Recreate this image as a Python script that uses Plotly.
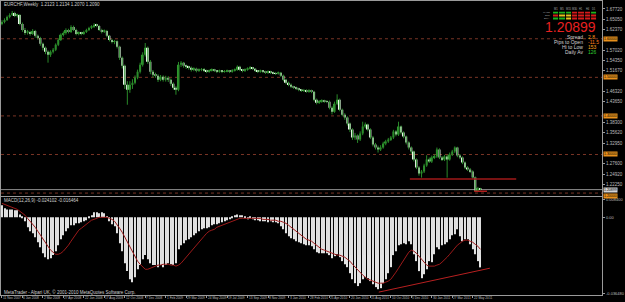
import pandas as pd
import plotly.graph_objects as go

# ---------------- data ----------------
symbol_title = "EURCHF,Weekly  1.2123 1.2134 1.2070 1.2090"
macd_title = "MACD(12,26,9) -0.024102 -0.016464"
footer_text = "MetaTrader - Alpari UK, \u00a9 2001-2010 MetaQuotes Software Corp."

weeks = pd.date_range("2007-11-11", periods=188, freq="7D")

opens = [
    1.6385, 1.6437, 1.6488, 1.6566, 1.6617, 1.6669, 1.6592, 1.6617, 1.6385, 1.6230,
    1.6152, 1.6178, 1.6126, 1.6204, 1.6075, 1.6023, 1.5868, 1.5765, 1.5661, 1.5584,
    1.5661, 1.5713, 1.5842, 1.5971, 1.6101, 1.6152, 1.6230, 1.6178, 1.6307, 1.6230,
    1.6126, 1.6152, 1.6126, 1.6178, 1.6230, 1.6282, 1.6307, 1.6359, 1.6333, 1.6230,
    1.6178, 1.6204, 1.6075, 1.5971, 1.5920, 1.5935, 1.5791, 1.5506, 1.5300, 1.4809,
    1.4679, 1.4809, 1.4860, 1.4990, 1.5145, 1.5325, 1.5584, 1.5765, 1.5403, 1.5145,
    1.5067, 1.5041, 1.4938, 1.5015, 1.4938, 1.4990, 1.4938, 1.4834, 1.4731, 1.4679,
    1.5325, 1.5377, 1.5300, 1.5274, 1.5248, 1.5196, 1.5222, 1.5170, 1.5196, 1.5210,
    1.5170, 1.5145, 1.5170, 1.5196, 1.5170, 1.5145, 1.5170, 1.5145, 1.5158, 1.5170,
    1.5145, 1.5170, 1.5196, 1.5274, 1.5196, 1.5170, 1.5196, 1.5222, 1.5248, 1.5222,
    1.5170, 1.5145, 1.5170, 1.5145, 1.5119, 1.5145, 1.5119, 1.5110, 1.5093, 1.5119,
    1.5041, 1.4938, 1.4860, 1.4809, 1.4757, 1.4731, 1.4705, 1.4679, 1.4654, 1.4660,
    1.4628, 1.4654, 1.4628, 1.4421, 1.4343, 1.4369, 1.4395, 1.4380, 1.4369, 1.4214,
    1.4111, 1.4318, 1.4421, 1.4163, 1.4033, 1.3956, 1.3801, 1.3646, 1.3439, 1.3491,
    1.3388, 1.3542, 1.3723, 1.3775, 1.3646, 1.3439, 1.3258, 1.3181, 1.3129, 1.3181,
    1.3284, 1.3336, 1.3388, 1.3439, 1.3594, 1.3517, 1.3723, 1.3568, 1.3465, 1.3310,
    1.3181, 1.3077, 1.2871, 1.2664, 1.2509, 1.2561, 1.2716, 1.2871, 1.2819, 1.2922,
    1.2948, 1.3129, 1.2922, 1.2871, 1.2948, 1.2871, 1.3000, 1.3077, 1.3181, 1.2974,
    1.2922, 1.2793, 1.2664, 1.2612, 1.2561, 1.2405, 1.2057, 1.2123,
]
highs = [
    1.6480, 1.6530, 1.6600, 1.6660, 1.6720, 1.6700, 1.6650, 1.6640, 1.6420, 1.6280,
    1.6230, 1.6210, 1.6250, 1.6230, 1.6110, 1.6050, 1.5900, 1.5800, 1.5700, 1.5700,
    1.5760, 1.5880, 1.6010, 1.6140, 1.6190, 1.6270, 1.6260, 1.6350, 1.6340, 1.6260,
    1.6190, 1.6180, 1.6210, 1.6260, 1.6310, 1.6350, 1.6400, 1.6390, 1.6360, 1.6260,
    1.6240, 1.6230, 1.6100, 1.6000, 1.5970, 1.5960, 1.5820, 1.5540, 1.5330, 1.4900,
    1.4900, 1.4950, 1.5050, 1.5200, 1.5380, 1.5650, 1.5890, 1.5800, 1.5450, 1.5190,
    1.5120, 1.5080, 1.5060, 1.5050, 1.5040, 1.5030, 1.4970, 1.4870, 1.4770, 1.5400,
    1.5420, 1.5400, 1.5330, 1.5300, 1.5280, 1.5260, 1.5250, 1.5230, 1.5240, 1.5240,
    1.5200, 1.5200, 1.5230, 1.5220, 1.5190, 1.5200, 1.5190, 1.5190, 1.5200, 1.5190,
    1.5210, 1.5230, 1.5310, 1.5300, 1.5220, 1.5230, 1.5260, 1.5290, 1.5270, 1.5240,
    1.5190, 1.5200, 1.5190, 1.5170, 1.5180, 1.5170, 1.5150, 1.5140, 1.5150, 1.5140,
    1.5070, 1.4960, 1.4890, 1.4840, 1.4780, 1.4760, 1.4730, 1.4700, 1.4700, 1.4690,
    1.4690, 1.4680, 1.4650, 1.4450, 1.4410, 1.4430, 1.4420, 1.4410, 1.4400, 1.4250,
    1.4370, 1.4560, 1.4450, 1.4190, 1.4070, 1.3990, 1.3830, 1.3680, 1.3560, 1.3520,
    1.3600, 1.3850, 1.3830, 1.3800, 1.3680, 1.3480, 1.3300, 1.3230, 1.3240, 1.3330,
    1.3380, 1.3430, 1.3480, 1.3640, 1.3630, 1.3850, 1.3750, 1.3600, 1.3490, 1.3340,
    1.3210, 1.3100, 1.2900, 1.2700, 1.2600, 1.2760, 1.2980, 1.2920, 1.2970, 1.3000,
    1.3180, 1.3160, 1.2960, 1.2990, 1.2990, 1.3050, 1.3120, 1.3210, 1.3200, 1.3010,
    1.2950, 1.2820, 1.2700, 1.2650, 1.2590, 1.2430, 1.2160, 1.2134,
]
lows = [
    1.6350, 1.6400, 1.6460, 1.6530, 1.6590, 1.6560, 1.6550, 1.6350, 1.6180, 1.6100,
    1.6110, 1.6080, 1.6100, 1.6030, 1.5980, 1.5820, 1.5700, 1.5600, 1.5380, 1.5530,
    1.5620, 1.5680, 1.5810, 1.5940, 1.6060, 1.6110, 1.6140, 1.6150, 1.6200, 1.6090,
    1.6090, 1.6090, 1.6100, 1.6150, 1.6200, 1.6250, 1.6280, 1.6300, 1.6200, 1.6140,
    1.6150, 1.6040, 1.5930, 1.5880, 1.5860, 1.5750, 1.5450, 1.5230, 1.4700, 1.4290,
    1.4600, 1.4700, 1.4820, 1.4950, 1.5100, 1.5280, 1.5540, 1.5350, 1.5080, 1.5000,
    1.4990, 1.4880, 1.4900, 1.4890, 1.4890, 1.4880, 1.4780, 1.4680, 1.4550, 1.4640,
    1.5270, 1.5250, 1.5220, 1.5200, 1.5150, 1.5160, 1.5130, 1.5140, 1.5160, 1.5140,
    1.5110, 1.5120, 1.5150, 1.5140, 1.5110, 1.5120, 1.5110, 1.5120, 1.5130, 1.5110,
    1.5120, 1.5150, 1.5170, 1.5160, 1.5130, 1.5140, 1.5170, 1.5200, 1.5190, 1.5140,
    1.5110, 1.5120, 1.5110, 1.5090, 1.5090, 1.5090, 1.5080, 1.5060, 1.5070, 1.5010,
    1.4900, 1.4820, 1.4770, 1.4720, 1.4700, 1.4670, 1.4640, 1.4620, 1.4620, 1.4600,
    1.4600, 1.4590, 1.4380, 1.4300, 1.4310, 1.4340, 1.4340, 1.4330, 1.4170, 1.4040,
    1.4080, 1.4280, 1.4120, 1.3990, 1.3900, 1.3750, 1.3580, 1.3380, 1.3380, 1.3300,
    1.3350, 1.3500, 1.3680, 1.3600, 1.3400, 1.3210, 1.3130, 1.3050, 1.3090, 1.3150,
    1.3240, 1.3300, 1.3350, 1.3400, 1.3470, 1.3480, 1.3520, 1.3420, 1.3260, 1.3130,
    1.3020, 1.2820, 1.2620, 1.2450, 1.2400, 1.2520, 1.2680, 1.2780, 1.2780, 1.2880,
    1.2910, 1.2880, 1.2830, 1.2830, 1.2400, 1.2840, 1.2960, 1.3040, 1.2930, 1.2880,
    1.2750, 1.2620, 1.2570, 1.2520, 1.2370, 1.2040, 1.2030, 1.2070,
]
closes = [
    1.6437, 1.6488, 1.6566, 1.6617, 1.6669, 1.6592, 1.6617, 1.6385, 1.6230, 1.6152,
    1.6178, 1.6126, 1.6204, 1.6075, 1.6023, 1.5868, 1.5765, 1.5661, 1.5584, 1.5661,
    1.5713, 1.5842, 1.5971, 1.6101, 1.6152, 1.6230, 1.6178, 1.6307, 1.6230, 1.6126,
    1.6152, 1.6126, 1.6178, 1.6230, 1.6282, 1.6307, 1.6359, 1.6333, 1.6230, 1.6178,
    1.6204, 1.6075, 1.5971, 1.5920, 1.5935, 1.5791, 1.5506, 1.5300, 1.4809, 1.4679,
    1.4809, 1.4860, 1.4990, 1.5145, 1.5325, 1.5584, 1.5765, 1.5403, 1.5145, 1.5067,
    1.5041, 1.4938, 1.5015, 1.4938, 1.4990, 1.4938, 1.4834, 1.4731, 1.4679, 1.5325,
    1.5377, 1.5300, 1.5274, 1.5248, 1.5196, 1.5222, 1.5170, 1.5196, 1.5210, 1.5170,
    1.5145, 1.5170, 1.5196, 1.5170, 1.5145, 1.5170, 1.5145, 1.5158, 1.5170, 1.5145,
    1.5170, 1.5196, 1.5274, 1.5196, 1.5170, 1.5196, 1.5222, 1.5248, 1.5222, 1.5170,
    1.5145, 1.5170, 1.5145, 1.5119, 1.5145, 1.5119, 1.5110, 1.5093, 1.5119, 1.5041,
    1.4938, 1.4860, 1.4809, 1.4757, 1.4731, 1.4705, 1.4679, 1.4654, 1.4660, 1.4628,
    1.4654, 1.4628, 1.4421, 1.4343, 1.4369, 1.4395, 1.4380, 1.4369, 1.4214, 1.4111,
    1.4318, 1.4421, 1.4163, 1.4033, 1.3956, 1.3801, 1.3646, 1.3439, 1.3491, 1.3388,
    1.3542, 1.3723, 1.3775, 1.3646, 1.3439, 1.3258, 1.3181, 1.3129, 1.3181, 1.3284,
    1.3336, 1.3388, 1.3439, 1.3594, 1.3517, 1.3723, 1.3568, 1.3465, 1.3310, 1.3181,
    1.3077, 1.2871, 1.2664, 1.2509, 1.2561, 1.2716, 1.2871, 1.2819, 1.2922, 1.2948,
    1.3129, 1.2922, 1.2871, 1.2948, 1.2871, 1.3000, 1.3077, 1.3181, 1.2974, 1.2922,
    1.2793, 1.2664, 1.2612, 1.2561, 1.2405, 1.2057, 1.2123, 1.2090,
]
macd_hist = [
    0.0058, 0.0043, 0.0038, 0.0038, 0.0038, 0.0034, 0.0034, 0.0014, -0.0005, -0.0019,
    -0.0048, -0.0067, -0.0077, -0.0096, -0.0120, -0.0144, -0.0173, -0.0192, -0.0202, -0.0197,
    -0.0182, -0.0163, -0.0134, -0.0106, -0.0086, -0.0067, -0.0053, -0.0038, -0.0038, -0.0029,
    -0.0029, -0.0024, -0.0019, -0.0014, -0.0005, 0.0010, 0.0024, 0.0024, 0.0019, 0.0024,
    0.0019, 0.0002, -0.0019, -0.0034, -0.0043, -0.0077, -0.0125, -0.0163, -0.0221, -0.0259,
    -0.0298, -0.0312, -0.0288, -0.0250, -0.0230, -0.0202, -0.0182, -0.0202, -0.0221, -0.0230,
    -0.0230, -0.0240, -0.0230, -0.0240, -0.0230, -0.0221, -0.0226, -0.0230, -0.0221, -0.0154,
    -0.0134, -0.0125, -0.0110, -0.0106, -0.0096, -0.0086, -0.0077, -0.0067, -0.0058, -0.0053,
    -0.0053, -0.0048, -0.0038, -0.0034, -0.0034, -0.0029, -0.0024, -0.0019, -0.0014, -0.0010,
    -0.0002, 0.0010, 0.0014, 0.0010, 0.0005, -0.0005, -0.0010, -0.0005, -0.0010, -0.0014,
    -0.0014, -0.0019, -0.0019, -0.0019, -0.0024, -0.0019, -0.0024, -0.0024, -0.0029, -0.0043,
    -0.0058, -0.0077, -0.0091, -0.0101, -0.0106, -0.0115, -0.0120, -0.0125, -0.0130, -0.0134,
    -0.0134, -0.0139, -0.0154, -0.0168, -0.0173, -0.0173, -0.0173, -0.0173, -0.0182, -0.0197,
    -0.0187, -0.0178, -0.0192, -0.0211, -0.0226, -0.0240, -0.0269, -0.0298, -0.0317, -0.0331,
    -0.0317, -0.0298, -0.0288, -0.0293, -0.0307, -0.0322, -0.0336, -0.0346, -0.0341, -0.0317,
    -0.0298, -0.0269, -0.0240, -0.0182, -0.0163, -0.0134, -0.0130, -0.0125, -0.0130, -0.0115,
    -0.0130, -0.0178, -0.0211, -0.0259, -0.0293, -0.0274, -0.0250, -0.0211, -0.0216, -0.0178,
    -0.0144, -0.0154, -0.0134, -0.0130, -0.0120, -0.0106, -0.0086, -0.0082, -0.0058, -0.0091,
    -0.0115, -0.0106, -0.0106, -0.0130, -0.0154, -0.0178, -0.0211, -0.0241,
]
macd_signal = [
    0.0067, 0.0062, 0.0058, 0.0053, 0.0048, 0.0043, 0.0038, 0.0029, 0.0019, 0.0010,
    -0.0005, -0.0019, -0.0029, -0.0048, -0.0067, -0.0086, -0.0106, -0.0125, -0.0144, -0.0158,
    -0.0168, -0.0178, -0.0178, -0.0173, -0.0163, -0.0149, -0.0134, -0.0115, -0.0096, -0.0077,
    -0.0062, -0.0053, -0.0043, -0.0034, -0.0024, -0.0014, -0.0010, -0.0005, 0.0000, 0.0000,
    0.0000, 0.0000, -0.0005, -0.0010, -0.0019, -0.0034, -0.0053, -0.0072, -0.0096, -0.0120,
    -0.0144, -0.0168, -0.0192, -0.0211, -0.0226, -0.0240, -0.0250, -0.0250, -0.0245, -0.0240,
    -0.0235, -0.0230, -0.0230, -0.0226, -0.0226, -0.0226, -0.0230, -0.0230, -0.0235, -0.0230,
    -0.0221, -0.0206, -0.0192, -0.0178, -0.0163, -0.0149, -0.0134, -0.0120, -0.0106, -0.0091,
    -0.0077, -0.0067, -0.0062, -0.0058, -0.0048, -0.0043, -0.0038, -0.0034, -0.0029, -0.0024,
    -0.0019, -0.0014, -0.0010, -0.0005, -0.0005, -0.0005, -0.0005, -0.0005, -0.0005, -0.0005,
    -0.0005, -0.0005, -0.0010, -0.0010, -0.0010, -0.0014, -0.0014, -0.0014, -0.0019, -0.0019,
    -0.0024, -0.0029, -0.0038, -0.0048, -0.0058, -0.0067, -0.0077, -0.0086, -0.0096, -0.0106,
    -0.0110, -0.0115, -0.0125, -0.0134, -0.0144, -0.0154, -0.0158, -0.0163, -0.0168, -0.0173,
    -0.0178, -0.0182, -0.0182, -0.0187, -0.0192, -0.0202, -0.0211, -0.0226, -0.0240, -0.0254,
    -0.0269, -0.0278, -0.0288, -0.0298, -0.0302, -0.0307, -0.0312, -0.0317, -0.0317, -0.0317,
    -0.0312, -0.0307, -0.0298, -0.0283, -0.0264, -0.0245, -0.0226, -0.0206, -0.0187, -0.0168,
    -0.0158, -0.0163, -0.0173, -0.0187, -0.0202, -0.0216, -0.0230, -0.0235, -0.0235, -0.0235,
    -0.0230, -0.0226, -0.0216, -0.0206, -0.0192, -0.0178, -0.0163, -0.0149, -0.0134, -0.0125,
    -0.0115, -0.0110, -0.0110, -0.0115, -0.0120, -0.0130, -0.0139, -0.0154,
]

date_labels = ["11 Nov 2007", "6 Jan 2008", "2 Mar 2008", "27 Apr 2008", "22 Jun 2008",
               "17 Aug 2008", "12 Oct 2008", "7 Dec 2008", "1 Feb 2009", "29 Mar 2009",
               "24 May 2009", "19 Jul 2009", "13 Sep 2009", "8 Nov 2009", "3 Jan 2010",
               "28 Feb 2010", "25 Apr 2010", "20 Jun 2010", "15 Aug 2010", "10 Oct 2010",
               "5 Dec 2010", "30 Jan 2011", "27 Mar 2011", "22 May 2011"]
price_ticks = [1.6772, 1.6505, 1.6237, 1.5702, 1.5435, 1.5167, 1.4632,
               1.4365, 1.3830, 1.3562, 1.3295, 1.2760, 1.2492, 1.2225]
level_prices = [1.60, 1.50, 1.40, 1.30, 1.20]
bid_price = 1.20899
support_dates = ["2010-12-01", "2011-09-18"]
support_prices = [1.2367, 1.2367]
low_mark_dates = ["2011-05-26", "2011-06-30"]
low_mark_prices = [1.2045, 1.2045]
macd_trend_dates = ["2010-09-07", "2011-07-08"]
macd_trend_values = [-0.0360, -0.0245]
macd_ticks = [0.0084, 0.0, -0.0365]
macd_tick_text = ["0.008400", "0.00", "-0.036480"]

info_labels = ["Spread", "Pips to Open", "Hi to Low", "Daily Av"]
info_values = ["2.8", "-11.5", "153", "126"]
info_value_colors = ["#ff9a1a", "#ff7a1a", "#ffa21a", "#2ecc2e"]
grid_cols = ["M1", "M5", "M15", "M30", "H1", "H4", "D1"]
grid_rows = ["MACD", "STR", "EMA"]
grid_state = [[2, 2, 2, 0, 0, 0, 2],
              [0, 1, 1, 0, 0, 0, 0],
              [2, 2, 1, 0, 0, 0, 0]]

for arr in (opens, highs, lows, closes, macd_hist, macd_signal):
    assert len(arr) == len(weeks), len(arr)

# ---------------- layout constants ----------------
W, H = 625, 302
PLOT_L, PLOT_R = 1, 612
MAIN_T, MAIN_B = 1, 197
MACD_T, MACD_B = 198, 296
FIRST_X, PX_WEEK = 2, 2.6
PRICE_TOP, PRICE_BOTTOM = 1.6979, 1.1915
MACD_TOP, MACD_BOTTOM = 0.0096, -0.0374
FONT = "Liberation Sans"
FRAME = "#9a9a9a"
TXT = "#d0d0d0"
WICK, BULL, BEAR = "#2a8a2a", "#2f962f", "#e8f8e8"
WEEK = pd.Timedelta(days=7)

x_start = weeks[0] - WEEK * ((FIRST_X - PLOT_L) / PX_WEEK)
x_end = weeks[0] + WEEK * ((PLOT_R - FIRST_X) / PX_WEEK)
body_w = 0.78 * 7 * 86400000
hist_w = 0.40 * 7 * 86400000

fig = go.Figure()

# wicks
wx, wy = [], []
for d, h, l in zip(weeks, highs, lows):
    wx += [d, d, None]
    wy += [l, h, None]
fig.add_trace(go.Scatter(x=wx, y=wy, mode="lines", line=dict(color=WICK, width=1),
                         hoverinfo="skip", xaxis="x", yaxis="y"))

# bodies
for is_bull, col in ((True, BULL), (False, BEAR)):
    xs, bases, hs = [], [], []
    for d, o, c in zip(weeks, opens, closes):
        if (c >= o) == is_bull:
            xs.append(d)
            bases.append(min(o, c))
            hs.append(max(abs(c - o), 0.0009))
    fig.add_trace(go.Bar(x=xs, y=hs, base=bases, width=body_w, marker=dict(color=col, line=dict(width=0)),
                         xaxis="x", yaxis="y", hoverinfo="skip"))

# drawn objects on the price chart
fig.add_trace(go.Scatter(x=pd.to_datetime(support_dates), y=support_prices, mode="lines",
                         line=dict(color="#a01818", width=1.5), xaxis="x", yaxis="y"))
fig.add_trace(go.Scatter(x=pd.to_datetime(low_mark_dates), y=low_mark_prices, mode="lines",
                         line=dict(color="#b01c1c", width=1.5), xaxis="x", yaxis="y"))

# MACD
fig.add_trace(go.Bar(x=weeks, y=macd_hist, width=hist_w, marker=dict(color="#e2e2e2", line=dict(width=0)),
                     xaxis="x2", yaxis="y2", hoverinfo="skip"))
fig.add_trace(go.Scatter(x=weeks, y=macd_signal, mode="lines", line=dict(color="#9c1a1a", width=1),
                         xaxis="x2", yaxis="y2"))
fig.add_trace(go.Scatter(x=pd.to_datetime(macd_trend_dates), y=macd_trend_values, mode="lines",
                         line=dict(color="#b82020", width=1), xaxis="x2", yaxis="y2"))

# status grid
fig.add_trace(go.Heatmap(z=grid_state, x=grid_cols, y=grid_rows, zmin=0, zmax=2, showscale=False,
                         colorscale=[[0, "#d81a1a"], [0.5, "#e6c21c"], [1, "#1cb41c"]],
                         xgap=1, ygap=1, xaxis="x3", yaxis="y3", hoverinfo="skip"))

xdom = [PLOT_L / W, PLOT_R / W]
fig.update_layout(
    width=W, height=H, margin=dict(l=0, r=0, t=0, b=0),
    paper_bgcolor="black", plot_bgcolor="black", showlegend=False, barmode="overlay",
    font=dict(family=FONT, color=TXT),
    xaxis=dict(domain=xdom, range=[x_start, x_end], type="date", anchor="y", showgrid=False,
               zeroline=False, showticklabels=False, ticks="", showline=True, mirror=True,
               linecolor=FRAME, linewidth=1),
    yaxis=dict(domain=[1 - MAIN_B / H, 1 - MAIN_T / H], range=[PRICE_BOTTOM, PRICE_TOP], side="right",
               anchor="x", showgrid=False, zeroline=False, tickvals=price_ticks,
               ticktext=[f"{v:.5f}" for v in price_ticks], ticks="outside", ticklen=2, tickcolor=FRAME,
               tickfont=dict(size=4.5, color="#bdbdbd"), showline=True, mirror=True, linecolor=FRAME, linewidth=1),
    xaxis2=dict(domain=xdom, range=[x_start, x_end], type="date", anchor="y2", showgrid=False,
                zeroline=False, showticklabels=False, tickvals=pd.to_datetime(date_labels, format="%d %b %Y"),
                ticks="outside", ticklen=2, tickcolor=FRAME, showline=True, mirror=True,
                linecolor=FRAME, linewidth=1),
    yaxis2=dict(domain=[1 - MACD_B / H, 1 - MACD_T / H], range=[MACD_BOTTOM, MACD_TOP], side="right",
                anchor="x2", showgrid=False, zeroline=False, tickvals=macd_ticks, ticktext=macd_tick_text,
                ticks="outside", ticklen=2, tickcolor=FRAME, tickfont=dict(size=4, color="#bdbdbd"),
                showline=True, mirror=True, linecolor=FRAME, linewidth=1),
    xaxis3=dict(domain=[562 / W, 607 / W], anchor="y3", visible=False),
    yaxis3=dict(domain=[1 - 20.5 / H, 1 - 11.5 / H], anchor="x3", visible=False, autorange="reversed"),
)

shapes = []
for lv in level_prices:
    shapes.append(dict(type="line", xref="paper", yref="y", x0=PLOT_L / W, x1=PLOT_R / W, y0=lv, y1=lv,
                       line=dict(color="#7a3526", width=1, dash="dot"), layer="below"))
shapes.append(dict(type="line", xref="paper", yref="y", x0=PLOT_L / W, x1=PLOT_R / W, y0=bid_price,
                   y1=bid_price, line=dict(color="#8c8c8c", width=1), layer="below"))
fig.update_layout(shapes=shapes)


def ann(text, xp, yp, size, color, xanchor="left", bg=None, yref="paper", yanchor="middle"):
    return dict(text=text, x=xp / W, y=(1 - yp / H) if yref == "paper" else yp, xref="paper", yref=yref,
                xanchor=xanchor, yanchor=yanchor, showarrow=False, borderpad=0,
                font=dict(size=size, color=color, family=FONT), bgcolor=bg)


anns = []
anns.append(ann(symbol_title, 3, 4.5, 4.5, TXT))
anns.append(ann(macd_title, 3, 201.5, 4.5, TXT))
anns.append(ann(footer_text, 3, 292.5, 4.5, TXT))
for lv in level_prices:
    anns.append(ann(f"{lv:.5f}", 613, lv, 3.5, "black", bg="#e8901c", yref="y",
                    yanchor="top" if lv < bid_price else "middle"))
anns.append(ann(f"{bid_price:.5f}", 613, bid_price, 3.5, "black", bg="#d4d4d4", yref="y"))
for lbl in date_labels:
    anns.append(dict(text=lbl, x=pd.to_datetime(lbl, format="%d %b %Y"), y=1 - 299.3 / H, xref="x2",
                     yref="paper", xanchor="left", yanchor="middle", showarrow=False, borderpad=0,
                     font=dict(size=3.2, color="#bdbdbd", family=FONT)))
# info panel
anns.append(ann(f"{bid_price:.5f}", 607, 27, 14, "#e82020", xanchor="right"))
for k, (lbl, val, col) in enumerate(zip(info_labels, info_values, info_value_colors)):
    yp = 37 + 5 * k
    anns.append(ann(lbl, 594, yp, 5, TXT, xanchor="right"))
    anns.append(ann(val, 597, yp, 5, col))
for j, c in enumerate(grid_cols):
    anns.append(ann(c, 562 + 6.43 * (j + 0.5), 9.5, 2.6, "#aaaaaa", xanchor="center"))
for r, name in enumerate(grid_rows):
    anns.append(ann(name, 560, 13 + 3 * r, 2.4, "#aaaaaa", xanchor="right"))
fig.update_layout(annotations=anns)

fig.write_html("out.html")
